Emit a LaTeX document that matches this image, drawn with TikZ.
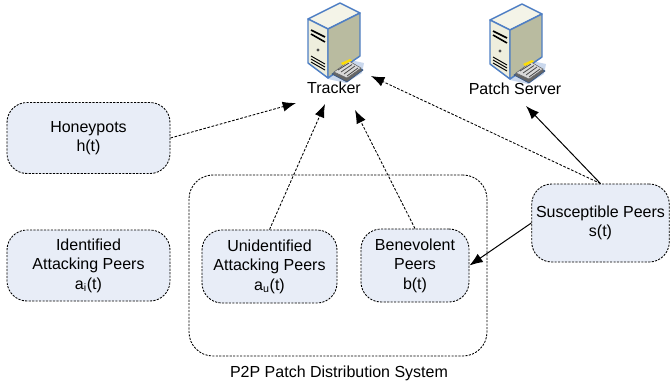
\documentclass[tikz,border=0pt]{standalone}
\usepackage{fontspec}
\setmainfont{Liberation Sans}
\usetikzlibrary{arrows.meta}
\definecolor{boxfill}{HTML}{E8EDF7}
\definecolor{srvblue}{HTML}{4F7FC4}
\definecolor{srvfront}{HTML}{EEEEDD}
\definecolor{srvside}{HTML}{B9BBA0}
\definecolor{srvtop}{HTML}{F4F4E8}
\tikzset{
 x=0.75pt,y=-0.75pt,
 peer/.style={draw=black,fill=boxfill,dash pattern=on 1.6pt off 1pt,line width=0.65pt,rounded corners=15pt,align=center,font=\fontsize{12pt}{14.6pt}\selectfont,inner sep=0pt},
 sys/.style={draw=black,dash pattern=on 1.6pt off 1pt,line width=0.65pt,rounded corners=18pt,inner sep=0pt},
 lab/.style={font=\fontsize{12pt}{14pt}\selectfont,inner sep=0pt},
 tip/.style={-{Latex[length=10pt,width=7.5pt]}},
 dasharrow/.style={tip,dash pattern=on 2pt off 1.2pt,line width=0.65pt,black},
 solidarrow/.style={tip,line width=0.75pt,black},
 server/.pic={
  \fill[srvblue!30] (20,68)--(38,56)--(56,60)--(54,70)--(38,80)--(20,76)--cycle;
  \filldraw[draw=srvblue,line width=1.1pt,fill=srvtop,line join=round] (0,16)--(32,0)--(52,10)--(20,26)--cycle;
  \filldraw[draw=srvblue,line width=1.1pt,fill=srvfront,line join=round] (0,16)--(20,26)--(20,75)--(0,60)--cycle;
  \filldraw[draw=srvblue,line width=1.1pt,fill=srvside,line join=round] (20,26)--(52,10)--(52,53)--(20,75)--cycle;
  \draw[black,line width=1.2pt] (3,27)--(17,34);
  \draw[black,line width=1.2pt] (3,31)--(17,39);
  \fill[black!70] (10,47) circle (1.6);
  \draw[black,line width=0.7pt] (3,53)--(17,61) (3,56)--(17,64) (3,59)--(17,67);
  \filldraw[draw=srvblue!70!black,line width=0.5pt,fill=black!60] (24,71)--(41,59)--(55,67)--(39,79)--cycle;
  \filldraw[draw=black!60,line width=0.4pt,fill=black!15] (26,69)--(41,58)--(53,65)--(39,75)--cycle;
  \draw[black!70,line width=0.6pt] (30,67)--(41,60) (33,69)--(44,61.5) (36,71)--(47,63) (39,73)--(50,65);
  \fill[yellow!80!orange] (33,60)--(42,56)--(44,57.5)--(35,62)--cycle;
 },
}
\begin{document}
\begin{tikzpicture}
\useasboundingbox (0,0) rectangle (670,387);
\pic at (308,3) {server};
\pic at (490,4) {server};
\node[lab] (tracker) at (334,88) {Tracker};
\node[lab] (patch) at (515,89) {Patch Server};
\node[sys,minimum width=298*0.75pt,minimum height=181*0.75pt] (system) at (338,265.5) {};
\node[lab] (syslabel) at (339,373) {P2P Patch Distribution System};
\node[peer,minimum width=163*0.75pt,minimum height=71*0.75pt] (honey) at (88.5,138) {Honeypots\\h(t)};
\node[peer,minimum width=163*0.75pt,minimum height=71*0.75pt] (ident) at (88.5,265.5) {Identified\\Attacking Peers\\a\textsubscript{i}(t)};
\node[peer,minimum width=135*0.75pt,minimum height=73*0.75pt] (unid) at (269.5,266.5) {Unidentified\\Attacking Peers\\a\textsubscript{u}(t)};
\node[peer,minimum width=108*0.75pt,minimum height=73*0.75pt] (bene) at (415,265.5) {Benevolent\\Peers\\b(t)};
\node[peer,minimum width=137.5*0.75pt,minimum height=78*0.75pt] (susc) at (600.5,223) {Susceptible Peers\\s(t)};
\coordinate (t1) at (296,103);
\coordinate (t2) at (325,104);
\coordinate (t3) at (355,110);
\coordinate (t4) at (371,76);
\coordinate (p1) at (526,106);
\draw[dasharrow] (honey.east) -- (t1);
\draw[dasharrow] (unid.north) -- (t2);
\draw[dasharrow] (bene.north) -- (t3);
\draw[dasharrow] (susc.north) -- (t4);
\draw[solidarrow] (susc.north) -- (p1);
\draw[solidarrow] (susc.west) -- (bene.east);
\end{tikzpicture}
\end{document}
